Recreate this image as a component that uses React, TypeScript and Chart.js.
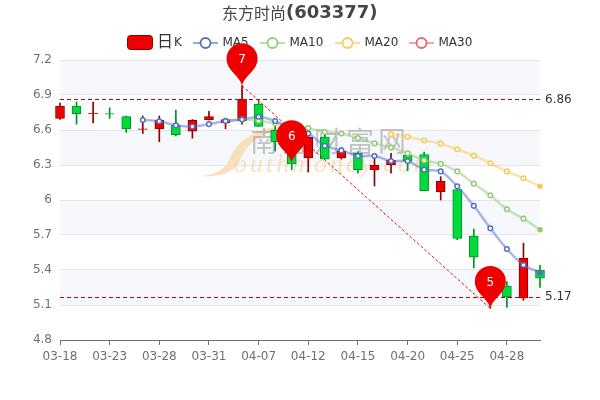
import React, { useEffect, useRef } from "react";
import { Chart, registerables } from "chart.js";

Chart.register(...registerables);

const categories = ["03-18","03-21","03-22","03-23","03-24","03-25","03-28","03-29","03-30","03-31","04-01","04-06","04-07","04-08","04-11","04-12","04-13","04-14","04-15","04-18","04-19","04-20","04-21","04-22","04-25","04-26","04-27","04-28","04-29","05-05"];
const opens  = [6.70,6.806,6.74,6.74,6.714,6.605,6.61,6.64,6.59,6.686,6.66,6.68,6.823,6.60,6.44,6.36,6.54,6.36,6.40,6.26,6.30,6.383,6.39,6.07,6.09,5.69,5.34,5.263,5.16,5.40];
const closes = [6.806,6.74,6.745,6.735,6.61,6.61,6.686,6.56,6.683,6.714,6.69,6.863,6.63,6.50,6.31,6.54,6.35,6.42,6.26,6.30,6.34,6.33,6.08,6.16,5.67,5.51,5.22,5.17,5.50,5.33];
const highs  = [6.83,6.84,6.84,6.79,6.72,6.72,6.72,6.77,6.69,6.76,6.70,6.98,6.86,6.70,6.50,6.58,6.56,6.45,6.415,6.36,6.40,6.39,6.41,6.20,6.09,5.75,5.36,5.30,5.63,5.44];
const lows   = [6.69,6.65,6.66,6.70,6.58,6.57,6.50,6.55,6.53,6.686,6.61,6.65,6.63,6.42,6.26,6.24,6.35,6.35,6.23,6.12,6.23,6.25,6.08,6.00,5.66,5.42,5.07,5.08,5.14,5.25];
const ma5  = [null,null,null,null,null,6.686,6.675,6.64,6.63,6.65,6.677,6.69,6.714,6.677,6.61,6.57,6.465,6.425,6.377,6.377,6.334,6.334,6.26,6.245,6.117,5.95,5.757,5.58,5.443,5.377];
const ma10 = [null,null,null,null,null,null,null,null,null,null,6.68,6.69,6.68,6.657,6.64,6.617,6.583,6.57,6.53,6.485,6.45,6.40,6.34,6.31,6.245,6.14,6.04,5.92,5.84,5.745];
const ma20 = [null,null,null,null,null,null,null,null,null,null,null,null,null,null,null,null,null,null,null,null,6.563,6.543,6.51,6.483,6.435,6.38,6.315,6.245,6.186,6.117];
const ma30: (number | null)[] = categories.map(() => null);
const yTicks = [4.8,5.1,5.4,5.7,6,6.3,6.6,6.9,7.2];
const markLineValues = [6.86, 5.17];
const pinIndexes = [11, 14, 26];
const pinValues = [6.98, 6.32, 5.07];
const pinLabels = ["7", "6", "5"];
const legendNames = ["MA5", "MA10", "MA20", "MA30"];
const legendColors = ["#5470c6", "#91cc75", "#fac858", "#ee6666"];
const legendLineX = [193, 260, 335, 409];

const UP = "#ec0000", UP_D = "#8a0000", DOWN = "#00da3c", DOWN_D = "#008f28";
const FONT = '"DejaVu Sans", sans-serif';

const alpha = (hex: string, a: number) => {
  const n = parseInt(hex.slice(1), 16);
  return `rgba(${n >> 16},${(n >> 8) & 255},${n & 255},${a})`;
};

const isUp = (i: number) => closes[i] >= opens[i];

const lineDs = (label: string, data: (number | null)[], color: string) => ({
  type: "line" as const,
  label,
  data,
  order: 0,
  clip: false as any,
  borderColor: alpha(color, 0.5),
  borderWidth: 2.5,
  tension: 0.3,
  spanGaps: false,
  pointStyle: "circle",
  pointRadius: (c: any) => (c.dataIndex === categories.length - 1 ? 2 : 2.3),
  pointBorderWidth: 1.5,
  pointBorderColor: color,
  pointBackgroundColor: (c: any) => (c.dataIndex === categories.length - 1 ? color : "#fff"),
});

const backdrop = {
  id: "backdrop",
  beforeDraw(chart: any) {
    const { ctx, chartArea: a, scales } = chart;
    const y = scales.y;
    ctx.save();
    for (let i = 1; i < yTicks.length - 1; i += 2) {
      const top = y.getPixelForValue(yTicks[i + 1]);
      const bottom = y.getPixelForValue(yTicks[i]);
      ctx.fillStyle = "rgba(240,243,250,0.6)";
      ctx.fillRect(a.left, top, a.width, bottom - top);
    }
    // title
    ctx.textBaseline = "middle";
    ctx.textAlign = "left";
    ctx.fillStyle = "#464646";
    ctx.font = `16px "Noto Sans CJK SC", ${FONT}`;
    ctx.fillText("东方时尚", 222, 13);
    ctx.font = `bold 18px ${FONT}`;
    ctx.fillText("(603377)", 286, 13);
    // legend
    ctx.fillStyle = UP;
    ctx.strokeStyle = UP_D;
    ctx.lineWidth = 1;
    ctx.beginPath();
    ctx.roundRect(127.5, 35.5, 25, 14, 3);
    ctx.fill();
    ctx.stroke();
    ctx.fillStyle = "#333";
    ctx.font = `16px "Noto Sans CJK SC", ${FONT}`;
    ctx.fillText("日", 157, 41);
    ctx.font = `12px ${FONT}`;
    ctx.fillText("K", 174, 43);
    legendNames.forEach((name, i) => {
      const lx = legendLineX[i];
      ctx.strokeStyle = alpha(legendColors[i], 0.6);
      ctx.lineWidth = 2;
      ctx.beginPath();
      ctx.moveTo(lx, 43);
      ctx.lineTo(lx + 25, 43);
      ctx.stroke();
      ctx.strokeStyle = legendColors[i];
      ctx.fillStyle = "#fff";
      ctx.lineWidth = 1.8;
      ctx.beginPath();
      ctx.arc(lx + 12.5, 43, 5, 0, Math.PI * 2);
      ctx.fill();
      ctx.stroke();
      ctx.fillStyle = "#333";
      ctx.fillText(name, lx + 29.5, 43);
    });
    ctx.restore();
  },
  beforeDatasetsDraw(chart: any) {
    const { ctx } = chart;
    ctx.save();
    // watermark swoosh
    ctx.fillStyle = "rgba(250,214,165,0.75)";
    ctx.beginPath();
    ctx.moveTo(294, 127);
    ctx.bezierCurveTo(262, 124, 238, 138, 229, 160);
    ctx.bezierCurveTo(225, 170, 214, 175, 200, 176);
    ctx.bezierCurveTo(220, 178, 236, 172, 241, 158);
    ctx.bezierCurveTo(248, 140, 268, 130, 294, 127);
    ctx.fill();
    ctx.textBaseline = "alphabetic";
    ctx.textAlign = "left";
    ctx.fillStyle = "rgba(150,150,150,0.55)";
    ctx.font = `28px "Noto Sans CJK SC", ${FONT}`;
    (ctx as any).letterSpacing = "4px";
    ctx.fillText("南方财富网", 250, 152);
    ctx.fillStyle = "rgba(250,214,165,0.75)";
    ctx.font = `italic 26px "Liberation Serif", serif`;
    (ctx as any).letterSpacing = "3px";
    ctx.fillText("outhmoney.com", 234, 172);
    (ctx as any).letterSpacing = "0px";
    ctx.restore();
  },
  afterDraw(chart: any) {
    const { ctx, chartArea: a, scales } = chart;
    const x = scales.x, y = scales.y;
    ctx.save();
    ctx.strokeStyle = "#d00000";
    ctx.lineWidth = 1;
    ctx.setLineDash([4, 3]);
    markLineValues.forEach((v) => {
      const py = Math.round(y.getPixelForValue(v) - 0.2) + 0.5;
      ctx.beginPath();
      ctx.moveTo(a.left, py);
      ctx.lineTo(a.right, py);
      ctx.stroke();
    });
    ctx.strokeStyle = "#f01010";
    ctx.setLineDash([3, 2]);
    ctx.beginPath();
    ctx.moveTo(x.getPixelForValue(pinIndexes[0]), y.getPixelForValue(pinValues[0]));
    ctx.lineTo(x.getPixelForValue(pinIndexes[2]), y.getPixelForValue(pinValues[2]));
    ctx.stroke();
    ctx.setLineDash([]);
    ctx.fillStyle = "#333";
    ctx.font = `12px ${FONT}`;
    ctx.textAlign = "left";
    ctx.textBaseline = "middle";
    markLineValues.forEach((v) => {
      ctx.fillText(v.toFixed(2), 545, y.getPixelForValue(v));
    });
    pinIndexes.forEach((idx, i) => {
      const px = x.getPixelForValue(idx);
      const tip = y.getPixelForValue(pinValues[i]);
      const r = 15.5;
      const cy = tip - 27;
      ctx.fillStyle = "#ee0000";
      ctx.beginPath();
      ctx.moveTo(px, tip);
      ctx.bezierCurveTo(px - 2, tip - 10, px - r, cy + 12, px - r, cy);
      ctx.arc(px, cy, r, Math.PI, 0);
      ctx.bezierCurveTo(px + r, cy + 12, px + 2, tip - 10, px, tip);
      ctx.fill();
      ctx.fillStyle = "#fff";
      ctx.font = `12px ${FONT}`;
      ctx.textAlign = "center";
      ctx.fillText(pinLabels[i], px, cy + 1);
    });
    ctx.restore();
  },
};

export default function App() {
  const ref = useRef<HTMLCanvasElement>(null);
  useEffect(() => {
    document.body.style.margin = "0";
    const chart = new Chart(ref.current as HTMLCanvasElement, {
      data: {
        labels: categories,
        datasets: [
          lineDs("MA5", ma5, legendColors[0]),
          lineDs("MA10", ma10, legendColors[1]),
          lineDs("MA20", ma20, legendColors[2]),
          lineDs("MA30", ma30, legendColors[3]),
          {
            type: "bar",
            label: "日K",
            data: categories.map((_, i) => [opens[i], closes[i]]),
            order: 1,
            grouped: false,
            clip: false,
            barThickness: 9,
            borderWidth: 1,
            borderSkipped: false,
            backgroundColor: (c: any) => (isUp(c.dataIndex) ? UP : DOWN),
            borderColor: (c: any) => (isUp(c.dataIndex) ? UP_D : DOWN_D),
          },
          {
            type: "bar",
            label: "wick",
            data: categories.map((_, i) => [lows[i], highs[i]]),
            order: 2,
            grouped: false,
            clip: false,
            barThickness: 1,
            borderWidth: 0,
            backgroundColor: (c: any) => (isUp(c.dataIndex) ? UP_D : DOWN_D),
          },
        ] as any,
      },
      options: {
        animation: false,
        responsive: false,
        devicePixelRatio: 1,
        layout: { padding: { left: 0, top: 60, right: 60, bottom: 0 } },
        plugins: { legend: { display: false }, title: { display: false }, tooltip: { enabled: false } },
        scales: {
          x: {
            type: "category",
            offset: false,
            stacked: false,
            afterFit: (s: any) => { s.height = 60; },
            afterBuildTicks: (s: any) => { s.ticks = s.ticks.filter((t: any) => t.value % 3 === 0); },
            border: { display: true, color: "#6E7079", width: 1 },
            grid: { display: true, offset: false, drawOnChartArea: false, drawTicks: true, tickLength: 5, tickColor: "#6E7079" },
            ticks: { autoSkip: false, maxRotation: 0, minRotation: 0, padding: 5, color: "#6E7079", font: { size: 12, family: FONT } },
          },
          y: {
            type: "linear",
            min: 4.8,
            max: 7.2,
            afterFit: (s: any) => { s.width = 60; },
            afterBuildTicks: (s: any) => { s.ticks = yTicks.map((value) => ({ value })); },
            border: { display: false },
            grid: { color: "#E0E6F1", lineWidth: 1, drawTicks: false },
            ticks: {
              padding: 8,
              color: "#6E7079",
              font: { size: 12, family: FONT },
              callback: (v: any) => String(Math.round(Number(v) * 10) / 10),
            },
          },
        },
      } as any,
      plugins: [backdrop],
    });
    return () => chart.destroy();
  }, []);
  return (
    <div style={{ position: "fixed", left: 0, top: 0, width: 600, height: 400 }}>
      <canvas ref={ref} width={600} height={400} style={{ display: "block" }} />
    </div>
  );
}
